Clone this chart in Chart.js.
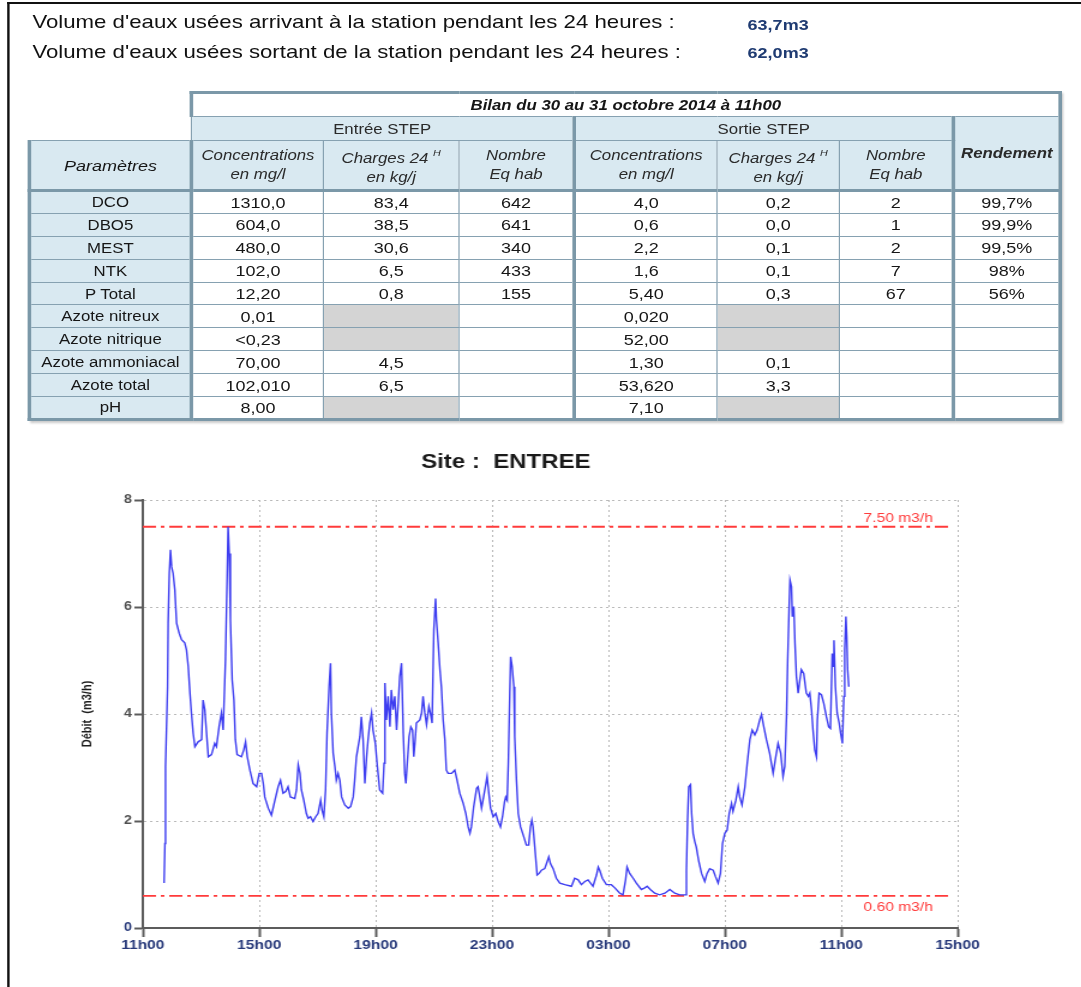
<!DOCTYPE html>
<html lang="fr">
<head>
<meta charset="utf-8">
<title>Bilan STEP - Site ENTREE</title>
<script src="https://cdn.jsdelivr.net/npm/chart.js@4.4.1/dist/chart.umd.min.js"></script>
<style>
  html, body { margin: 0; padding: 0; background: #fff; overflow: hidden; }
  body { width: 1081px; height: 987px; font-family: Arial, "Liberation Sans", sans-serif; }
  /* the original report is stretched horizontally, so everything is laid out 1/1.2 narrower */
  #page { position: absolute; left: 0; top: 0; width: 901px; height: 987px; transform: scaleX(1.2); transform-origin: 0 0; }
  #cadre { position: absolute; left: 6px; top: 2px; width: 900px; height: 1000px; border-top: 2px solid #111; border-left: 2px solid #111; }
  .ligne { position: absolute; left: 27px; font-size: 18.5px; line-height: 22px; color: #111; white-space: nowrap; }
  .val { position: absolute; left: 623px; font-size: 15px; font-weight: bold; line-height: 18px; color: #1f3b72; }
  #bilan { position: absolute; left: 23px; top: 91px; width: 859px; border-collapse: collapse; table-layout: fixed; color: #161616; box-shadow: 2px 2px 2px rgba(0,0,0,0.22); }
  #bilan td { border: 1px solid #86a1b1; text-align: center; vertical-align: middle; padding: 0; white-space: nowrap; overflow: hidden; font-size: 15px; }
  #bilan td.vide { border-top: hidden; border-left: hidden; border-bottom-style: none; border-right-style: none; background: transparent; }
  #bilan .hd { background: #d9e9f1; font-size: 14px; color: #2a2a2a; }
  #bilan .it { font-style: italic; line-height: 19px; }
  #bilan .titre { background: #fff; font-style: italic; font-weight: bold; font-size: 14px; border-top: 3px solid #7b98a8; border-left: 3px solid #7b98a8; border-right: 3px solid #7b98a8; }
  #bilan .param { background: #d9e9f1; font-size: 14px; border-left: 3px solid #7b98a8; border-right: 3px solid #7b98a8; }
  #bilan .sep { border-right: 3px solid #7b98a8; }
  #bilan .rend { border-left: 3px solid #7b98a8; border-right: 3px solid #7b98a8; }
  #bilan .bas { border-bottom: 3px solid #7b98a8; }
  #bilan .gris { background: #d4d4d4; }
  #bilan sup { font-size: 9px; vertical-align: 7px; }
  #graph { position: absolute; left: 20px; top: 440px; width: 820px; height: 530px; }
</style>
</head>
<body>
<div id="page">
  <div id="cadre"></div>
  <div class="ligne" style="top:11px">Volume d'eaux usées arrivant à la station pendant les 24 heures :</div>
  <div class="val" style="top:16px">63,7m3</div>
  <div class="ligne" style="top:41px">Volume d'eaux usées sortant de la station pendant les 24 heures :</div>
  <div class="val" style="top:44px">62,0m3</div>

  <table id="bilan">
    <colgroup>
      <col style="width:135px"><col style="width:110px"><col style="width:113px"><col style="width:96px">
      <col style="width:119px"><col style="width:102px"><col style="width:95px"><col style="width:89px">
    </colgroup>
    <tbody id="corps">
      <tr style="height:24px">
        <td class="vide"></td>
        <td colspan="7" class="titre">Bilan du 30 au 31 octobre 2014 à 11h00</td>
      </tr>
      <tr style="height:24px">
        <td class="vide"></td>
        <td colspan="3" class="hd sep">Entrée STEP</td>
        <td colspan="3" class="hd">Sortie STEP</td>
        <td rowspan="2" class="hd rend bas" style="font-style:italic;font-weight:bold;">Rendement</td>
      </tr>
      <tr style="height:50px">
        <td class="param bas" style="font-style:italic;font-size:15px;">Paramètres</td>
        <td class="hd it bas">Concentrations<br>en mg/l</td>
        <td class="hd it bas">Charges 24 <sup>H</sup><br>en kg/j</td>
        <td class="hd it bas sep">Nombre<br>Eq hab</td>
        <td class="hd it bas">Concentrations<br>en mg/l</td>
        <td class="hd it bas">Charges 24 <sup>H</sup><br>en kg/j</td>
        <td class="hd it bas">Nombre<br>Eq hab</td>
      </tr>
    </tbody>
  </table>

  <div id="graph"><canvas id="debit"></canvas></div>
</div>

<script>
// ---- tableau du bilan ----
const parametres = ['DCO', 'DBO5', 'MEST', 'NTK', 'P Total', 'Azote nitreux', 'Azote nitrique', 'Azote ammoniacal', 'Azote total', 'pH'];
const entreeConc = ['1310,0', '604,0', '480,0', '102,0', '12,20', '0,01', '<0,23', '70,00', '102,010', '8,00'];
const entreeCharge = ['83,4', '38,5', '30,6', '6,5', '0,8', null, null, '4,5', '6,5', null];
const entreeEqHab = ['642', '641', '340', '433', '155', '', '', '', '', ''];
const sortieConc = ['4,0', '0,6', '2,2', '1,6', '5,40', '0,020', '52,00', '1,30', '53,620', '7,10'];
const sortieCharge = ['0,2', '0,0', '0,1', '0,1', '0,3', null, null, '0,1', '3,3', null];
const sortieEqHab = ['2', '1', '2', '7', '67', '', '', '', '', ''];
const rendement = ['99,7%', '99,9%', '99,5%', '98%', '56%', '', '', '', '', ''];

// ---- courbe de débit (heures écoulées depuis 11h00) ----
const heures = [
  0.73, 0.76, 0.78, 0.85, 0.87, 0.91, 0.95, 0.99, 1.04, 1.10,
  1.16, 1.25, 1.33, 1.44, 1.50, 1.56, 1.62, 1.67, 1.73, 1.79,
  1.90, 2.02, 2.07, 2.13, 2.19, 2.25, 2.36, 2.47, 2.53, 2.62,
  2.70, 2.76, 2.84, 2.90, 2.93, 2.97, 3.01, 3.07, 3.13, 3.18,
  3.24, 3.39, 3.47, 3.53, 3.59, 3.68, 3.79, 3.91, 4.00, 4.08,
  4.14, 4.19, 4.31, 4.42, 4.54, 4.65, 4.73, 4.82, 4.91, 4.99,
  5.07, 5.22, 5.28, 5.34, 5.40, 5.45, 5.53, 5.62, 5.68, 5.76,
  5.85, 5.94, 6.02, 6.11, 6.16, 6.22, 6.28, 6.33, 6.40, 6.45,
  6.48, 6.54, 6.60, 6.65, 6.71, 6.77, 6.83, 6.94, 7.06, 7.14,
  7.23, 7.28, 7.34, 7.40, 7.46, 7.51, 7.57, 7.63, 7.69, 7.74,
  7.80, 7.86, 7.91, 7.99, 8.06, 8.14, 8.24,
  8.29, 8.32, 8.37, 8.43, 8.49, 8.54, 8.60, 8.66, 8.72, 8.77,
  8.83, 8.89, 8.95, 9.00, 9.04, 9.08, 9.15, 9.21, 9.27, 9.31,
  9.36, 9.40, 9.52, 9.58, 9.63, 9.69, 9.75, 9.83, 9.88, 9.94,
  10.00, 10.06, 10.09, 10.15, 10.21, 10.26, 10.32, 10.38, 10.43, 10.49,
  10.61, 10.72, 10.80, 10.89, 11.01, 11.10, 11.18, 11.24, 11.29, 11.37,
  11.47, 11.52, 11.58, 11.64, 11.69, 11.79, 11.83, 11.89, 11.95, 12.04,
  12.13, 12.21, 12.29, 12.36, 12.43, 12.47, 12.52, 12.56, 12.61, 12.64,
  12.69, 12.75, 12.78, 12.84, 12.90, 12.98, 13.07, 13.18, 13.26, 13.32,
  13.37, 13.41, 13.47, 13.55, 13.62, 13.70, 13.81, 13.87, 13.95, 14.01,
  14.10, 14.21, 14.33, 14.50, 14.73, 14.84, 14.96, 15.07, 15.19, 15.30,
  15.47, 15.59, 15.65, 15.70, 15.79, 15.93, 16.10, 16.22, 16.39, 16.50,
  16.59, 16.64, 16.73, 16.85, 16.96, 17.13, 17.25, 17.33, 17.44, 17.59,
  17.76, 17.94, 18.11, 18.28, 18.45, 18.51, 18.66, 18.68, 18.72, 18.76,
  18.82, 18.86, 18.91, 18.97, 19.02, 19.10, 19.20, 19.31, 19.39, 19.48,
  19.60, 19.68, 19.77, 19.85, 19.92, 20.00, 20.08, 20.15, 20.23, 20.28,
  20.38, 20.46, 20.51, 20.59, 20.69, 20.77, 20.86, 20.94, 21.03, 21.11,
  21.20, 21.26, 21.34, 21.43, 21.54, 21.66, 21.75, 21.83, 21.92, 22.00,
  22.06, 22.12, 22.16, 22.21, 22.24, 22.29, 22.32, 22.37, 22.41, 22.46,
  22.52, 22.58, 22.63, 22.71, 22.80, 22.87, 22.92, 22.98, 23.03, 23.09,
  23.15, 23.18, 23.24, 23.32, 23.40, 23.49, 23.57, 23.63, 23.69, 23.72,
  23.75, 23.80, 23.86, 23.93, 23.98, 24.04, 24.09, 24.12, 24.16, 24.19,
  24.22, 24.26
];
const debit = [
  0.84, 1.58, 3.02, 4.51, 5.70, 6.63, 7.07, 6.75, 6.63, 6.32,
  5.70, 5.51, 5.39, 5.33, 5.20, 4.89, 4.39, 4.02, 3.64, 3.39,
  3.48, 3.52, 4.26, 4.08, 3.64, 3.20, 3.24, 3.45, 3.39, 3.76,
  4.02, 3.70, 5.01, 6.63, 7.50, 7.00, 5.76, 4.64, 4.26, 3.52,
  3.24, 3.20, 3.33, 3.48, 3.20, 2.95, 2.70, 2.64, 2.89, 2.89,
  2.70, 2.45, 2.24, 2.11, 2.39, 2.64, 2.76, 2.52, 2.55, 2.64,
  2.45, 2.42, 2.58, 3.05, 2.89, 2.58, 2.39, 2.14, 2.05, 2.08,
  1.99, 2.08, 2.14, 2.39, 2.20, 2.08, 2.58, 3.64, 4.51, 4.95,
  4.02, 3.27, 3.02, 2.76, 2.89, 2.76, 2.45, 2.30, 2.24, 2.27,
  2.45, 2.76, 3.20, 3.39, 3.58, 3.95, 3.52, 2.70, 3.20, 3.52,
  3.83, 4.02, 3.70, 3.45, 3.02, 2.58, 2.52,
  3.08, 4.58, 3.89, 4.33, 3.76, 4.45, 4.08, 4.33, 3.70, 4.14,
  4.70, 4.95, 3.64, 2.89, 2.70, 3.02, 3.58, 3.76, 3.70, 3.20,
  3.52, 3.83, 3.89, 4.02, 4.33, 4.02, 3.80, 4.14, 4.02, 3.83,
  5.57, 6.16, 5.76, 5.32, 4.83, 4.51, 3.89, 3.52, 2.95, 2.89,
  2.89, 2.95, 2.76, 2.52, 2.33, 2.14, 1.89, 1.77, 1.89, 2.27,
  2.61, 2.64, 2.45, 2.24, 2.39, 2.70, 2.83, 2.52, 2.24, 2.08,
  2.14, 1.99, 1.89, 2.08, 2.36, 2.45, 2.39, 3.08, 4.39, 5.07,
  4.89, 4.51, 3.58, 2.76, 2.14, 1.89, 1.74, 1.55, 1.55, 1.89,
  2.02, 1.89, 1.51, 0.99, 1.02, 1.08, 1.11, 1.20, 1.33, 1.20,
  1.11, 0.93, 0.84, 0.81, 0.78, 0.93, 0.90, 0.81, 0.87, 0.90,
  0.78, 0.99, 1.14, 1.08, 0.93, 0.81, 0.81, 0.75, 0.65, 0.62,
  0.90, 1.14, 1.02, 0.93, 0.84, 0.72, 0.75, 0.78, 0.72, 0.65,
  0.62, 0.65, 0.72, 0.65, 0.62, 0.62, 0.62, 1.08, 2.02, 2.64,
  2.68, 2.14, 1.77, 1.61, 1.51, 1.26, 1.02, 0.87, 1.02, 1.11,
  1.08, 0.96, 0.84, 1.02, 1.58, 1.77, 1.83, 2.14, 2.33, 2.18,
  2.39, 2.64, 2.45, 2.30, 2.64, 3.08, 3.52, 3.70, 3.61, 3.70,
  3.89, 3.99, 3.76, 3.52, 3.27, 2.89, 3.20, 3.45, 3.27, 2.83,
  3.02, 3.95, 5.01, 6.01, 6.50, 6.38, 5.82, 6.01, 5.33, 4.70,
  4.39, 4.64, 4.83, 4.76, 4.39, 4.33, 4.39, 4.08, 3.70, 3.33,
  3.20, 3.89, 4.39, 4.36, 4.20, 3.95, 3.76, 3.73, 5.13, 4.89,
  5.38, 4.51, 4.02, 3.83, 3.64, 3.45, 4.33, 5.20, 5.82, 5.45,
  4.83, 4.51
];
const heuresTicks = ['11h00', '15h00', '19h00', '23h00', '03h00', '07h00', '11h00', '15h00'];
const seuils = [7.5, 0.6];
const seuilTextes = ['7.50 m3/h', '0.60 m3/h'];
const seuilFin = 27.8;   // the dash-dot lines stop just before the last grid line

function remplirTableau() {
    const corps = document.getElementById('corps');
    for (let i = 0; i < parametres.length; i++) {
        const tr = document.createElement('tr');
        tr.style.height = '22.9px';
        const last = i === parametres.length - 1 ? ' bas' : '';
        const cells = [
            [parametres[i], 'param' + last],
            [entreeConc[i], last],
            [entreeCharge[i], last],
            [entreeEqHab[i], 'sep' + last],
            [sortieConc[i], last],
            [sortieCharge[i], last],
            [sortieEqHab[i], last],
            [rendement[i], 'rend' + last]
        ];
        for (const [txt, cls] of cells) {
            const td = document.createElement('td');
            td.className = cls.trim();
            if (txt === null) td.classList.add('gris');
            else td.textContent = txt;
            tr.appendChild(td);
        }
        corps.appendChild(tr);
    }
}
remplirTableau();

// labels above / below the two threshold lines
const etiquettesSeuils = {
    id: 'etiquettesSeuils',
    afterDatasetsDraw(chart) {
        const { ctx, scales: { x, y } } = chart;
        ctx.save();
        ctx.font = '13px Arial, "Liberation Sans", sans-serif';
        ctx.fillStyle = '#ff3b3b';
        ctx.textAlign = 'right';
        ctx.textBaseline = 'alphabetic';
        seuils.forEach((s, i) => {
            const py = y.getPixelForValue(s);
            ctx.fillText(seuilTextes[i], x.getPixelForValue(27.15), i === 0 ? py - 5 : py + 15);
        });
        ctx.restore();
    }
};

Chart.defaults.font.family = 'Arial, "Liberation Sans", sans-serif';
Chart.defaults.animation = false;

const axisColor = '#5c5c5c';
const gridColor = '#b9b9b9';

new Chart(document.getElementById('debit').getContext('2d'), {
    type: 'line',
    data: {
        datasets: [
            {
                label: 'Débit',
                data: heures.map((h, i) => ({ x: h, y: debit[i] })),
                borderColor: '#3d3df0',
                borderWidth: 1.4,
                pointRadius: 0,
                tension: 0,
                fill: false
            },
            ...seuils.map(s => ({
                label: 'seuil ' + s,
                data: [{ x: 0, y: s }, { x: seuilFin, y: s }],
                borderColor: '#ff3b3b',
                borderWidth: 1.8,
                borderDash: [11, 4, 3, 4],
                pointRadius: 0,
                fill: false
            }))
        ]
    },
    options: {
        responsive: true,
        maintainAspectRatio: false,
        events: [],
        layout: { padding: { left: 25, right: 42, top: 0, bottom: 0 } },
        plugins: {
            legend: { display: false },
            tooltip: { enabled: false },
            title: {
                display: true,
                text: 'Site :  ENTREE',
                color: '#1a1a1a',
                font: { size: 20, weight: 'bold' },
                padding: { top: 10, bottom: 26 }
            }
        },
        scales: {
            x: {
                type: 'linear',
                min: 0,
                max: 28,
                afterFit: s => { s.height = 42; },
                border: { display: true, color: axisColor, width: 2, dash: [2, 3] },
                grid: { color: gridColor, lineWidth: 1, tickLength: 9, tickColor: axisColor, tickWidth: 2, tickBorderDash: [] },
                ticks: {
                    stepSize: 4,
                    autoSkip: false,
                    maxRotation: 0,
                    padding: 1,
                    color: '#27397a',
                    font: { size: 13, weight: 'bold' },
                    callback: v => heuresTicks[v / 4]
                }
            },
            y: {
                min: 0,
                max: 8,
                afterFit: s => { s.width = 74; },
                border: { display: true, color: axisColor, width: 2, dash: [2, 3] },
                grid: { color: gridColor, lineWidth: 1, tickLength: 7, tickColor: axisColor, tickWidth: 2, tickBorderDash: [] },
                ticks: {
                    stepSize: 2,
                    padding: 2,
                    color: ctx => ctx.tick && ctx.tick.value === 0 ? '#27397a' : '#505050',
                    font: { size: 12, weight: 'bold' }
                },
                title: {
                    display: true,
                    text: 'Débit  (m3/h)',
                    color: '#1e1e1e',
                    font: { size: 11, weight: 'bold' },
                    padding: { top: 21, bottom: 0 }
                }
            }
        }
    },
    plugins: [etiquettesSeuils]
});
</script>
</body>
</html>
